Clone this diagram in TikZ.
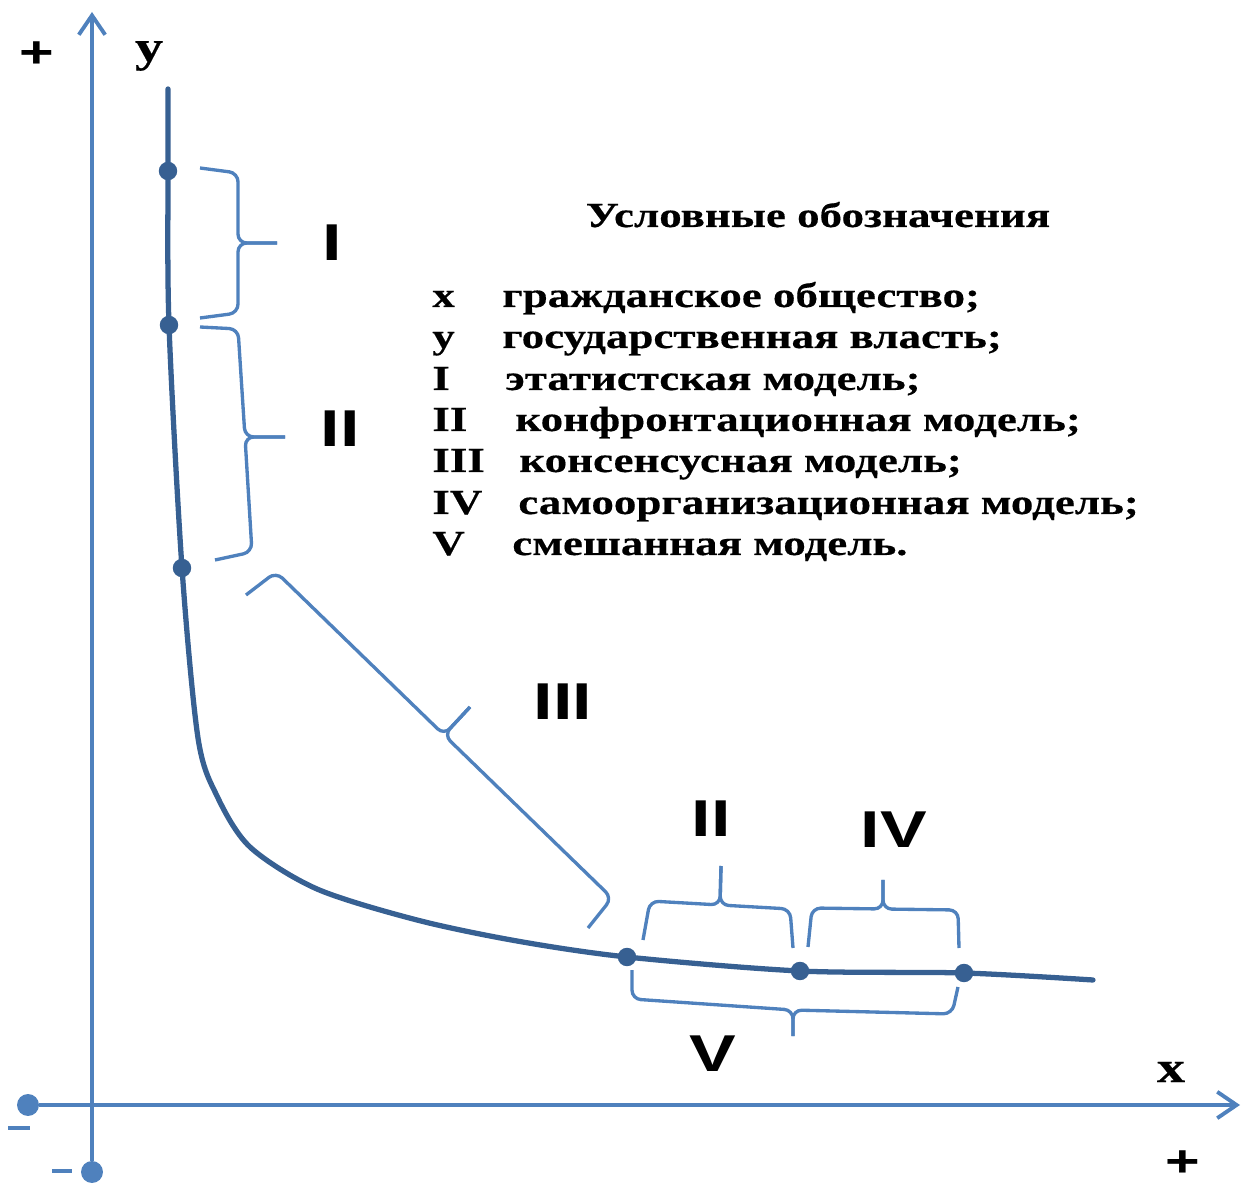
\documentclass[tikz,border=0pt]{standalone}
\usepackage{fontspec}
\setmainfont{Liberation Serif}
\newfontfamily\legfont{Liberation Serif}[FakeStretch=1.28, FakeBold=0.4]
\newfontfamily\numfont{Liberation Sans}[FakeStretch=1.35]
\usetikzlibrary{arrows.meta}
\definecolor{axblue}{RGB}{79,129,189}
\definecolor{crvblue}{RGB}{55,96,146}
\tikzset{
  axline/.style={draw=axblue, line width=2.2pt, -{Straight Barb[length=11pt,width=15pt]}},
  axdot/.style={circle, fill=axblue, inner sep=0pt, minimum size=12.5pt},
  minusbar/.style={draw=axblue, line width=2.6pt},
  crv/.style={draw=crvblue, line width=3pt, line cap=round},
  crvdot/.style={circle, fill=crvblue, inner sep=0pt, minimum size=10.5pt},
  brc/.style={draw=axblue, line width=1.9pt, rounded corners=5pt},
  lab/.style={font=\numfont\bfseries\fontsize{29.5}{30}\selectfont, inner sep=0pt},
  sign/.style={font=\legfont\bfseries\fontsize{25}{26}\selectfont, inner sep=0pt},
  plus/.style={font=\numfont\bfseries\fontsize{25}{26}\selectfont, inner sep=0pt},
  leg/.style={font=\legfont\bfseries\fontsize{20}{22}\selectfont, inner sep=0pt, anchor=base west},
  legtitle/.style={leg, anchor=base}
}
\begin{document}
\begin{tikzpicture}[x=0.02cm, y=-0.02cm]
  \useasboundingbox (0,0) rectangle (1252,1185);
  % axes
  \node[axdot] (xneg) at (28,1105) {};
  \node[axdot] (yneg) at (92,1172) {};
  \coordinate (xend) at (1240,1105);
  \coordinate (yend) at (92,12);
  \draw[axline] (xneg) -- (xend);
  \draw[axline] (yneg) -- (yend);
  \draw[minusbar] (8,1128) -- (30,1128);
  \draw[minusbar] (52,1171) -- (72,1171);
  \node[plus] (ptop) at (37,55) {+};
  \node[plus] (pright) at (1183,1164) {+};
  \node[sign] (ylab) at (149,56) {y};
  \node[sign] (xlab) at (1171,1072) {x};

  % curve
  \draw[crv] plot[smooth, tension=0.5] coordinates {(168,89) (168,171) (169,325)
    (182,568) (198,738) (217,796) (250,847) (317,889) (417,920)
    (517,941) (627,957) (800,971) (964,973) (1093,980)};
  \node[crvdot] (p1) at (168,171) {};
  \node[crvdot] (p2) at (169,325) {};
  \node[crvdot] (p3) at (182,568) {};
  \node[crvdot] (p4) at (627,957) {};
  \node[crvdot] (p5) at (800,971) {};
  \node[crvdot] (p6) at (964,973) {};

  % braces
  \draw[brc] (200,168) -- (238,173) -- (238,243) -- (277,243);
  \draw[brc] (200,318) -- (238,313) -- (238,243) -- (277,243);
  \draw[brc] (200,327) -- (238,329) -- (245,437) -- (285,437);
  \draw[brc] (215,560) -- (252,552) -- (245,437) -- (285,437);
  \draw[brc] (246,595) -- (276,572) -- (444,735) -- (470,707);
  \draw[brc] (588,928) -- (612,898) -- (444,735) -- (470,707);
  \draw[brc] (643,940) -- (650,901) -- (720,905) -- (721,866);
  \draw[brc] (793,948) -- (790,909) -- (720,905) -- (721,866);
  \draw[brc] (808,947) -- (812,908) -- (883,909) -- (883,880);
  \draw[brc] (959,948) -- (958,910) -- (883,909) -- (883,880);
  \draw[brc] (632,970) -- (632,999) -- (793,1010) -- (793,1036);
  \draw[brc] (958,987) -- (952,1014) -- (793,1010) -- (793,1036);

  \node[lab] (mI) at (332,243) {I};
  \node[lab] (mII) at (340,429) {II};
  \node[lab] (mIII) at (563,702) {III};
  \node[lab] (mIIb) at (711,819) {II};
  \node[lab] (mIV) at (894,830) {IV};
  \node[lab] (mV) at (713,1054) {V};

  % legend
  \node[legtitle] (ttl) at (818,227) {Условные обозначения};
  \node[leg] (kx) at (432,307) {x};
  \node[leg] (tx) at (502,307) {гражданское общество;};
  \node[leg] (ky) at (432,348) {y};
  \node[leg] (ty) at (502,348) {государственная власть;};
  \node[leg] (k1) at (432,390) {I};
  \node[leg] (t1) at (505,390) {этатистская модель;};
  \node[leg] (k2) at (432,431) {II};
  \node[leg] (t2) at (515,431) {конфронтационная модель;};
  \node[leg] (k3) at (432,472) {III};
  \node[leg] (t3) at (519,472) {консенсусная модель;};
  \node[leg] (k4) at (432,514) {IV};
  \node[leg] (t4) at (518,514) {самоорганизационная модель;};
  \node[leg] (k5) at (432,555) {V};
  \node[leg] (t5) at (512,555) {смешанная модель.};
\end{tikzpicture}
\end{document}
